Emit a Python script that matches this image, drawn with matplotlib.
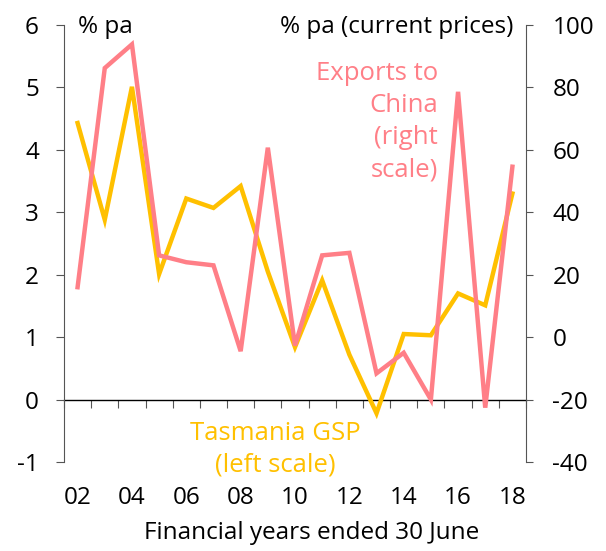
import matplotlib
matplotlib.use("Agg")
import matplotlib.pyplot as plt
import numpy as np

years = list(range(2002, 2019))
tas_gsp = [4.43, 2.88, 5.01, 2.01, 3.22, 3.07, 3.42, 2.05, 0.84, 1.91, 0.72, -0.22, 1.05, 1.03, 1.70, 1.51, 3.30]
exports_china = [16.0, 86.2, 93.8, 26.2, 24.0, 23.0, -4.5, 60.7, -2.7, 26.2, 27.0, -11.6, -5.0, -20.0, 78.6, -22.6, 54.6]
xtick_years = list(range(2002, 2019, 2))
xtick_labels = [f"{y % 100:02d}" for y in xtick_years]

YELLOW = "#FFC000"
PINK = "#FF7F87"
AXCOL = "#555555"

plt.rcParams['font.family'] = ['Open Sans', 'DejaVu Sans']
plt.rcParams['axes.unicode_minus'] = False
fs = 17.5
afs = 18.5

fig = plt.figure(figsize=(6.06, 5.51), dpi=100)
ax = fig.add_axes([64/606, 89/551, 462/606, 437/551])
ax2 = ax.twinx()

ymin, ymax = -1, 6
ax.set_ylim(ymin, ymax)
ax2.set_ylim(-40, 100)
ax.set_xlim(2001.5, 2018.5)

ax.plot(years, tas_gsp, color=YELLOW, lw=3.2, solid_joinstyle='miter', zorder=3)
ax2.plot(years, exports_china, color=PINK, lw=3.2, solid_joinstyle='miter', zorder=3)

for a in (ax, ax2):
    a.spines['top'].set_visible(False)
    a.spines['bottom'].set_visible(False)
ax.spines['right'].set_visible(False)
ax2.spines['left'].set_visible(False)
ax.spines['left'].set_color(AXCOL)
ax2.spines['right'].set_color(AXCOL)

ax.set_yticks(range(-1, 7))
ax2.set_yticks(range(-40, 101, 20))
ax.tick_params(axis='y', direction='out', length=6, color=AXCOL, labelsize=fs, pad=12)
ax2.tick_params(axis='y', direction='out', length=5, color=AXCOL, labelsize=fs, pad=14)

ax.set_xticks(xtick_years)
ax.set_xticklabels(xtick_labels)
ax.tick_params(axis='x', length=0, labelsize=fs, pad=17)
ax.set_xlabel("Financial years ended 30 June", fontsize=fs, labelpad=12)
ax.xaxis.set_label_coords(0.537, -0.135)

zero_loc = (0 - ymin) / (ymax - ymin)
sec = ax.secondary_xaxis(zero_loc)
sec.spines['bottom'].set_color('black')
sec.spines['bottom'].set_linewidth(1.0)
sec.set_xticks(np.arange(2001.5, 2019, 1.0))
sec.tick_params(axis='x', direction='out', length=6, color=AXCOL, labelbottom=False)

ax.text(0.03, 0.982, "% pa", transform=ax.transAxes, ha='left', va='baseline', fontsize=fs)
ax.text(0.972, 0.982, "% pa (current prices)", transform=ax.transAxes, ha='right', va='baseline', fontsize=fs)
ax.text(0.81, 0.918, "Exports to\nChina\n(right\nscale)", transform=ax.transAxes,
        ha='right', va='top', fontsize=afs, color=PINK, linespacing=1.38)
ax.text(0.457, -0.036, "Tasmania GSP\n(left scale)", transform=ax.transAxes,
        ha='center', va='bottom', fontsize=afs, color=YELLOW, linespacing=1.35)

fig.savefig("out.png", dpi=100)
